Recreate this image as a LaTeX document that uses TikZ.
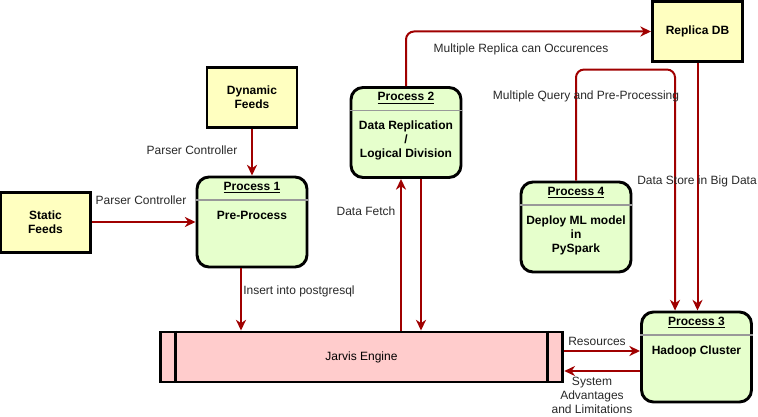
\documentclass[tikz,border=0pt]{standalone}
\usepackage{fontspec}
\setmainfont{Liberation Sans}
\usepackage{tikz}
\usetikzlibrary{arrows.meta,positioning,calc}
\definecolor{feedyellow}{RGB}{255,255,192}
\definecolor{procgreen}{RGB}{230,255,204}
\definecolor{enginepink}{RGB}{255,204,204}
\definecolor{flowred}{RGB}{160,0,0}
\definecolor{labelgray}{RGB}{40,40,40}
\tikzset{
  feed/.style={draw, line width=2.2pt, fill=feedyellow, minimum width=67.5pt, minimum height=45pt,
    align=center, font=\fontsize{9}{10.5}\selectfont\bfseries},
  proc/.style={draw, line width=2.2pt, fill=procgreen, rounded corners=9pt,
    minimum width=82.5pt, minimum height=67.5pt},
  ptitle/.style={inner sep=0pt, font=\fontsize{9}{10.5}\selectfont\bfseries},
  pbody/.style={inner sep=0pt, anchor=north, align=center, font=\fontsize{9}{10.5}\selectfont\bfseries},
  psep/.style={draw=black!40, line width=0.8pt},
  flow/.style={draw=flowred, line width=1.5pt, rounded corners=6pt,
    -{Stealth[length=8pt,width=7.5pt,inset=2.5pt]}},
  lbl/.style={inner sep=0pt, align=center, text=labelgray, font=\fontsize{9}{10.5}\selectfont},
}
\begin{document}
\begin{tikzpicture}[x=0.75pt,y=-0.75pt]
\useasboundingbox (0,0) rectangle (758,417);

% feeds and stores
\node[feed] (dyn) at (252,97.5) {Dynamic\\Feeds};
\node[feed] (stat) at (45.5,222.5) {Static\\Feeds};
\node[feed] (rep) at (697.5,31.5) {Replica DB};

% engine
\node[draw, line width=2.2pt, fill=enginepink, minimum width=302pt, minimum height=37.5pt,
  font=\fontsize{9}{10.5}\selectfont] (jarvis) at (361.5,357) {Jarvis Engine};
\draw[line width=2.2pt] ([xshift=12.75pt]jarvis.north west) -- ([xshift=12.75pt]jarvis.south west);
\draw[line width=2.2pt] ([xshift=-12.75pt]jarvis.north east) -- ([xshift=-12.75pt]jarvis.south east);

% processes
\node[proc] (p1) at (252,222) {};
\node[ptitle] (p1t) at ($(p1.north)+(0,12)$) {\underline{Process 1}};
\draw[psep] ($(p1.north west)+(0,24.5)$) -- ($(p1.north east)+(0,24.5)$);
\node[pbody] (p1b) at ($(p1.north)+(0,35)$) {Pre-Process};

\node[proc] (p2) at (406,132.5) {};
\node[ptitle] (p2t) at ($(p2.north)+(0,12)$) {\underline{Process 2}};
\draw[psep] ($(p2.north west)+(0,24.5)$) -- ($(p2.north east)+(0,24.5)$);
\node[pbody] (p2b) at ($(p2.north)+(0,35)$) {Data Replication\\/\\Logical Division};

\node[proc] (p4) at (576,227) {};
\node[ptitle] (p4t) at ($(p4.north)+(0,12)$) {\underline{Process 4}};
\draw[psep] ($(p4.north west)+(0,24.5)$) -- ($(p4.north east)+(0,24.5)$);
\node[pbody] (p4b) at ($(p4.north)+(0,35)$) {Deploy ML model\\in\\PySpark};

\node[proc] (p3) at (696.5,357) {};
\node[ptitle] (p3t) at ($(p3.north)+(0,12)$) {\underline{Process 3}};
\draw[psep] ($(p3.north west)+(0,24.5)$) -- ($(p3.north east)+(0,24.5)$);
\node[pbody] (p3b) at ($(p3.north)+(0,35)$) {Hadoop Cluster};

% connectors
\draw[flow] (dyn.south) -- (p1.north);
\draw[flow] (stat.east |- p1.west) -- (p1.west);
\draw[flow] ([xshift=-8.25pt]p1.south) -- ([xshift=-8.25pt]p1.south |- jarvis.north);
\draw[flow] ([xshift=-3.75pt]p2.south |- jarvis.north) -- ([xshift=-3.75pt]p2.south);
\draw[flow] ([xshift=11.25pt]p2.south) -- ([xshift=11.25pt]p2.south |- jarvis.north);
\draw[flow] (p2.north) |- (rep.west);
\draw[flow] (p4.north) -- ++(0,-111) -| ([xshift=-16.1pt]p3.north);
\draw[flow] (rep.south) -- (rep.south |- p3.north);
\draw[flow] ([yshift=4.5pt]jarvis.east) -- ([yshift=4.5pt]jarvis.east -| p3.west);
\draw[flow] ([yshift=-10.5pt]p3.west) -- ([yshift=-10.5pt]p3.west -| jarvis.east);

% labels
\node[lbl] (lparse1) at (192,150) {Parser Controller};
\node[lbl] (lparse2) at (141,200) {Parser Controller};
\node[lbl, anchor=west] (linsert) at (243,291) {Insert into postgresql};
\node[lbl] (lfetch) at (366,211) {Data Fetch};
\node[lbl] (lreplica) at (521,49) {Multiple Replica can Occurences};
\node[lbl] (lquery) at (586,96) {Multiple Query and Pre-Processing};
\node[lbl] (lstore) at (697,181) {Data Store in Big Data};
\node[lbl] (lres) at (597,341) {Resources};
\node[lbl] (lsys) at (592,395) {System\\Advantages\\and Limitations};
\end{tikzpicture}
\end{document}
